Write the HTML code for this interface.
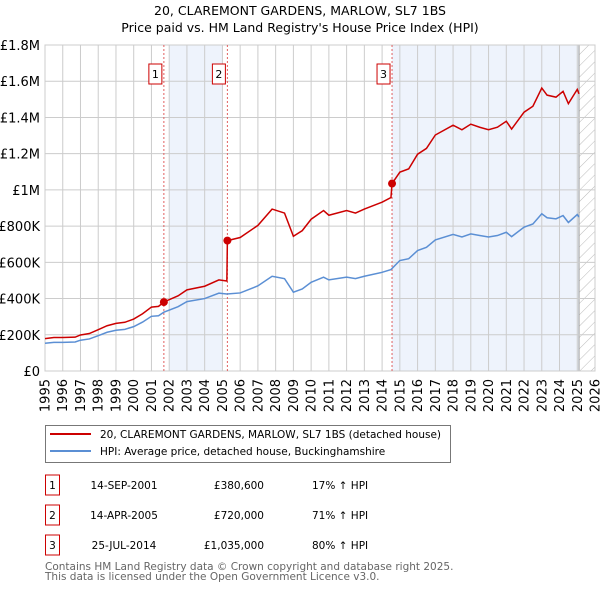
<!DOCTYPE html>
<html><head><meta charset="utf-8">
<style>
body{margin:0;background:#fff;font-family:"Liberation Sans","DejaVu Sans",sans-serif;}
svg text{font-family:"DejaVu Sans","Liberation Sans",sans-serif;}
</style></head>
<body>
<svg id="chart" width="600" height="590" xmlns="http://www.w3.org/2000/svg">
<text x="300" y="15" text-anchor="middle" font-size="12.5" fill="#000">20, CLAREMONT GARDENS, MARLOW, SL7 1BS</text>
<text x="300" y="32" text-anchor="middle" font-size="12.5" fill="#000">Price paid vs. HM Land Registry's House Price Index (HPI)</text>
<defs><pattern id="hatch" width="8" height="8" patternUnits="userSpaceOnUse" patternTransform="rotate(45)"><line x1="0" y1="0" x2="0" y2="8" stroke="#bbb" stroke-width="1"/></pattern></defs>
<g id="plot"></g>
<g id="legend">
<rect x="45.5" y="425.5" width="405" height="37" fill="#fff" stroke="#777"/>
<line x1="50" y1="434" x2="91" y2="434" stroke="#cc0000" stroke-width="2"/>
<text x="100" y="438" font-size="10.5">20, CLAREMONT GARDENS, MARLOW, SL7 1BS (detached house)</text>
<line x1="50" y1="451" x2="91" y2="451" stroke="#5b8fd4" stroke-width="2"/>
<text x="100" y="455" font-size="10.5">HPI: Average price, detached house, Buckinghamshire</text>
</g>
<g id="table" font-size="10.5"></g>
<text x="45" y="570" font-size="10.5" fill="#666">Contains HM Land Registry data © Crown copyright and database right 2025.</text>
<text x="45" y="580" font-size="10.5" fill="#666">This data is licensed under the Open Government Licence v3.0.</text>
</svg>
<script>
const years=[1995,1995.5,1996,1996.7,1997,1997.5,1998,1998.5,1999,1999.5,2000,2000.5,2001,2001.4,2001.7,2002.5,2003,2004,2004.8,2005.25,2006,2007,2007.8,2008.5,2009,2009.5,2010,2010.7,2011,2012,2012.5,2013,2014,2014.5,2015,2015.5,2016,2016.5,2017,2018,2018.5,2019,2019.5,2020,2020.5,2021,2021.3,2022,2022.5,2023,2023.3,2023.8,2024.2,2024.5,2025,2025.1];
const hpiValues=[153,158,158,160,170,177,195,214,225,230,245,270,302,305,325,355,383,400,430,425,431,470,523,510,435,453,490,518,503,518,510,523,545,560,610,620,665,683,724,754,740,757,748,740,748,766,742,794,812,868,846,840,858,820,864,850];
const redYears=[1995,1995.5,1996,1996.7,1997,1997.5,1998,1998.5,1999,1999.5,2000,2000.5,2001,2001.4,2001.7,2002.5,2003,2004,2004.8,2005.25,2005.28,2006,2007,2007.8,2008.5,2009,2009.5,2010,2010.7,2011,2012,2012.5,2013,2014,2014.5,2014.56,2015,2015.5,2016,2016.5,2017,2018,2018.5,2019,2019.5,2020,2020.5,2021,2021.3,2022,2022.5,2023,2023.3,2023.8,2024.2,2024.5,2025,2025.1];
const redValues=[179,185,185,187,199,207,228,250,263,269,287,316,353,357,381,415,448,468,503,497,720,737,804,894,872,744,775,838,886,860,886,872,894,932,958,1035,1098,1116,1197,1229,1303,1357,1332,1363,1346,1332,1346,1379,1336,1429,1462,1562,1523,1512,1544,1476,1555,1530];
const saleYears=[2001.7,2005.28,2014.56];
const saleValues=[380.6,720,1035];
const saleLabels=["1","2","3"];
const saleDates=["14-SEP-2001","14-APR-2005","25-JUL-2014"];
const salePrices=["£380,600","£720,000","£1,035,000"];
const saleHpi=["17% ↑ HPI","71% ↑ HPI","80% ↑ HPI"];
const yTicks=[0,200,400,600,800,1000,1200,1400,1600,1800];
const yTickLabels=["£0","£200K","£400K","£600K","£800K","£1M","£1.2M","£1.4M","£1.6M","£1.8M"];
const xTicks=[1995,1996,1997,1998,1999,2000,2001,2002,2003,2004,2005,2006,2007,2008,2009,2010,2011,2012,2013,2014,2015,2016,2017,2018,2019,2020,2021,2022,2023,2024,2025,2026];

const X0=45,X1=595,Y0=371,Y1=45;
const xs=y=>X0+(y-1995)/(2026-1995)*(X1-X0);
const ys=v=>Y0-v/1800*(Y0-Y1);
const NS="http://www.w3.org/2000/svg";
const plot=document.getElementById('plot');
function mk(tag,attrs,parent){const e=document.createElementNS(NS,tag);for(const k in attrs)e.setAttribute(k,attrs[k]);(parent||plot).appendChild(e);return e;}

let e=mk('rect',{x:X0,y:Y1,width:X1-X0,height:Y0-Y1,fill:'#fff'});


e=mk('rect',{x:xs(2002),y:Y1,width:xs(2005)-xs(2002),height:Y0-Y1,fill:'#eef3fc'});


e=mk('rect',{x:xs(saleYears[2]),y:Y1,width:xs(2025.1)-xs(saleYears[2]),height:Y0-Y1,fill:'#eef3fc'});


e=mk('rect',{x:xs(2025.1),y:Y1,width:X1-xs(2025.1),height:Y0-Y1,fill:'url(#hatch)'});


e=mk('line',{x1:xs(2025.1),y1:Y1,x2:xs(2025.1),y2:Y0,stroke:'#999','stroke-width':1});



yTicks.forEach((t,i)=>{
  const g=mk('line',{x1:X0,x2:X1,y1:ys(t),y2:ys(t),stroke:'#ccc','stroke-width':1});
  
  
  const l=mk('text',{x:X0-5,y:ys(t)+5,'text-anchor':'end','font-size':13,fill:'#000'});
  l.textContent=yTickLabels[i];
  
  
});
xTicks.forEach(t=>{
  const g=mk('line',{x1:xs(t),x2:xs(t),y1:Y1,y2:Y0,stroke:'#ccc','stroke-width':1});
  
  
  const l=mk('text',{x:0,y:0,'text-anchor':'end','font-size':13,fill:'#000',transform:`translate(${xs(t)+4.5},${Y0+8}) rotate(-90)`});
  l.textContent=t;
  
  
});
e=mk('rect',{x:X0,y:Y1,width:X1-X0,height:Y0-Y1,fill:'none',stroke:'#ccc'});



saleYears.forEach((s,i)=>{
  const l=mk('line',{x1:xs(s),x2:xs(s),y1:Y1,y2:Y0,stroke:'#e06060','stroke-width':1,'stroke-dasharray':'2,2'});
  
  
  const b=mk('rect',{x:xs(s)-15,y:64,width:13,height:20,fill:'#fff',stroke:'#cc0000'});
  
  
  const t=mk('text',{x:xs(s)-8.5,y:78,'text-anchor':'middle','font-size':11});
  t.textContent=saleLabels[i];
  
  
});

const hp=mk('polyline',{points:years.map((y,i)=>xs(y)+','+ys(hpiValues[i])).join(' '),fill:'none',stroke:'#5b8fd4','stroke-width':1.5});


const rp=mk('polyline',{points:redYears.map((y,i)=>xs(y)+','+ys(redValues[i])).join(' '),fill:'none',stroke:'#cc0000','stroke-width':1.5});


saleYears.forEach((s,i)=>{
  const c=mk('circle',{cx:xs(s),cy:ys(saleValues[i]),r:4,fill:'#cc0000'});
  
  
});

const tbl=document.getElementById('table');
saleYears.forEach((s,i)=>{
  const y=485+i*30;
  const b=mk('rect',{x:45.5,y:y-10,width:14,height:20,fill:'#fff',stroke:'#cc0000'},tbl);
  
  
  const n=mk('text',{x:52.5,y:y+4,'text-anchor':'middle'},tbl);n.textContent=saleLabels[i];
  
  
  const d=mk('text',{x:124,y:y+4,'text-anchor':'middle'},tbl);d.textContent=saleDates[i];
  
  
  const p=mk('text',{x:264,y:y+4,'text-anchor':'end'},tbl);p.textContent=salePrices[i];
  
  
  const h=mk('text',{x:312,y:y+4},tbl);h.textContent=saleHpi[i];
  
  
});
</script>
</body></html>
